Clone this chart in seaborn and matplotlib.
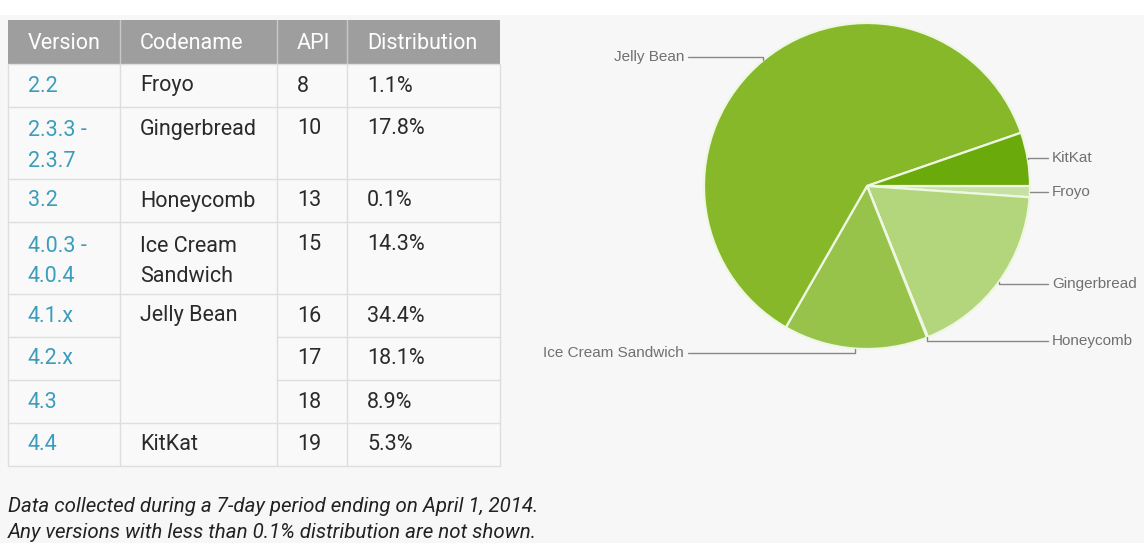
import numpy as np
import pandas as pd
import matplotlib
matplotlib.use("Agg")
import matplotlib.pyplot as plt
import seaborn as sns

# ---------------- data ----------------
versions = ["2.2", "2.3.3 -\n2.3.7", "3.2", "4.0.3 -\n4.0.4", "4.1.x", "4.2.x", "4.3", "4.4"]
codenames = ["Froyo", "Gingerbread", "Honeycomb", "Ice Cream\nSandwich",
             "Jelly Bean", "Jelly Bean", "Jelly Bean", "KitKat"]
apis = [8, 10, 13, 15, 16, 17, 18, 19]
distribution = [1.1, 17.8, 0.1, 14.3, 34.4, 18.1, 8.9, 5.3]
headers = ["Version", "Codename", "API", "Distribution"]

pie_order = ["Froyo", "Gingerbread", "Honeycomb", "Ice Cream Sandwich", "Jelly Bean", "KitKat"]
pie_colors = ["#c6e2a2", "#b3d67d", "#b3d67d", "#97c34b", "#86b82a", "#6aaa0b"]

footnotes = ["Data collected during a 7-day period ending on April 1, 2014.",
             "Any versions with less than 0.1% distribution are not shown."]

# ---------------- style ----------------
sns.set_theme(style="white")
plt.rcParams["font.family"] = ["Roboto", "DejaVu Sans"]

BG = "#f7f7f7"
W, H = 1144, 543
fig = plt.figure(figsize=(W / 100, H / 100), dpi=100, facecolor=BG)

ax = fig.add_axes([0, 0, 1, 1])
ax.set_xlim(0, W)
ax.set_ylim(H, 0)
ax.axis("off")
ax.add_patch(plt.Rectangle((0, 0), W, 14, color="white", zorder=0))

# ---------------- table ----------------
col_x = [8, 120, 277, 347, 500]
top = 20
header_h = 44
line_h = 29
pad = 14
grid = "#dedede"
fs = 15.5
ls = 1.58
txt = "#2a2a2a"

# header
ax.add_patch(plt.Rectangle((col_x[0], top), col_x[-1] - col_x[0], header_h,
                           facecolor="#9e9e9e", edgecolor="none", zorder=1))
for j, h in enumerate(headers):
    ax.text(col_x[j] + 20, top + header_h / 2 + 1.5, h, color="white", fontsize=fs,
            va="center", ha="left", zorder=3)
for xj in col_x[1:-1]:
    ax.plot([xj, xj], [top, top + header_h], color="#c8c8c8", lw=1, zorder=2)

# rows
nlines = [max(v.count("\n"), c.count("\n")) + 1 for v, c in zip(versions, codenames)]
heights = [pad + line_h * n for n in nlines]
ys = np.concatenate([[top + header_h], top + header_h + np.cumsum(heights)])
table_bottom = ys[-1]
ax.add_patch(plt.Rectangle((col_x[0], ys[0]), col_x[-1] - col_x[0], table_bottom - ys[0],
                           facecolor="#f9f9f9", edgecolor=grid, lw=1, zorder=1))
for xj in col_x[1:-1]:
    ax.plot([xj, xj], [ys[0], table_bottom], color=grid, lw=1, zorder=2)


def cell_text(x, ty, s, color):
    if "\n" in s:
        ax.text(x, ty - 8.5, s, color=color, fontsize=fs, va="top", ha="left",
                linespacing=ls, zorder=3)
    else:
        ax.text(x, ty, s, color=color, fontsize=fs, va="center", ha="left", zorder=3)


for i in range(len(versions)):
    y0 = ys[i]
    same_next = i + 1 < len(codenames) and codenames[i + 1] == codenames[i]
    if i + 1 < len(versions):
        if same_next:
            ax.plot([col_x[0], col_x[1]], [ys[i + 1]] * 2, color=grid, lw=1, zorder=2)
            ax.plot([col_x[2], col_x[4]], [ys[i + 1]] * 2, color=grid, lw=1, zorder=2)
        else:
            ax.plot([col_x[0], col_x[4]], [ys[i + 1]] * 2, color=grid, lw=1, zorder=2)
    ty = y0 + 22
    cell_text(col_x[0] + 20, ty, versions[i], "#3a9dbb")
    if i == 0 or codenames[i - 1] != codenames[i]:
        cell_text(col_x[1] + 20, ty, codenames[i], txt)
    cell_text(col_x[2] + 20, ty, str(apis[i]), txt)
    cell_text(col_x[3] + 20, ty, f"{distribution[i]}%", txt)

# footnotes
for k, t in enumerate(footnotes):
    ax.text(col_x[0], 506 + 27 * k, t, color="#222222", fontsize=14.8, style="italic",
            va="center", ha="left")

# ---------------- pie ----------------
df = pd.DataFrame({"codename": [c.replace("\n", " ") for c in codenames],
                   "share": distribution})
agg = df.groupby("codename")["share"].sum().reindex(pie_order)

cx, cy, r = 867, 186, 163
pax = fig.add_axes([(cx - r) / W, 1 - (cy + r) / H, 2 * r / W, 2 * r / H])
pax.set_facecolor("none")
wedges, _ = pax.pie(agg.values, colors=pie_colors, startangle=0, counterclock=False,
                    wedgeprops=dict(edgecolor="#eef7e2", linewidth=1.6))
pax.set_xlim(-1, 1)
pax.set_ylim(-1, 1)
pax.set_aspect("auto")
pax.axis("off")

lead = "#888888"
for w, name in zip(wedges, agg.index):
    th = np.deg2rad((w.theta1 + w.theta2) / 2)
    x0, y0 = np.cos(th), np.sin(th)
    yl = 1.025 * y0
    if x0 >= 0:
        xe, xt, ha = 1.11, 1.135, "left"
    else:
        xe, xt, ha = -1.098, -1.123, "right"
    pax.plot([x0, x0, xe], [y0, yl, yl], color=lead, lw=1, clip_on=False)
    pax.text(xt, yl, name, ha=ha, va="center", fontsize=11, color="#707070",
             family=["Liberation Sans", "DejaVu Sans"], clip_on=False)

fig.savefig("out.png", dpi=100, facecolor=BG)
